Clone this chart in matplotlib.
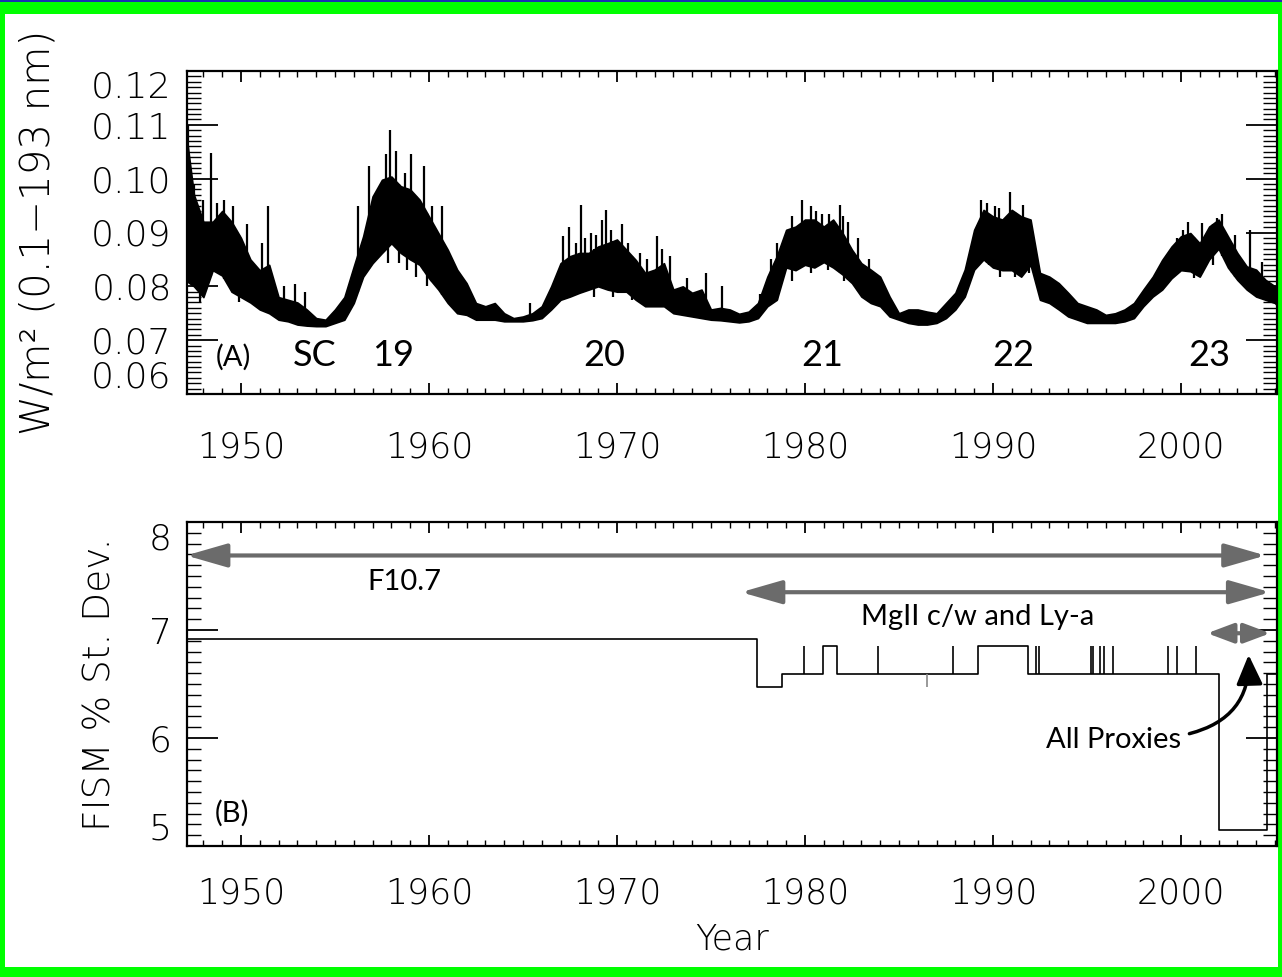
import matplotlib
matplotlib.use("Agg")
import matplotlib.pyplot as plt
import numpy as np
from matplotlib import font_manager as fm
from matplotlib.patches import Rectangle
from matplotlib.ticker import MultipleLocator

# ---- panel A: FISM 0.1-193 nm irradiance, band every half year
irr_years = [1947.1, 1947.5, 1948.0, 1948.5, 1949.0, 1949.5, 1950.0, 1950.5, 1951.0, 1951.5,
             1952.0, 1952.5, 1953.0, 1953.5, 1954.0, 1954.5, 1955.0, 1955.5, 1956.0, 1956.5,
             1957.0, 1957.5, 1958.0, 1958.5, 1959.0, 1959.5, 1960.0, 1960.5, 1961.0, 1961.5,
             1962.0, 1962.5, 1963.0, 1963.5, 1964.0, 1964.5, 1965.0, 1965.5, 1966.0, 1966.5,
             1967.0, 1967.5, 1968.0, 1968.5, 1969.0, 1969.5, 1970.0, 1970.5, 1971.0, 1971.5,
             1972.0, 1972.5, 1973.0, 1973.5, 1974.0, 1974.5, 1975.0, 1975.5, 1976.0, 1976.5,
             1977.0, 1977.5, 1978.0, 1978.5, 1979.0, 1979.5, 1980.0, 1980.5, 1981.0, 1981.5,
             1982.0, 1982.5, 1983.0, 1983.5, 1984.0, 1984.5, 1985.0, 1985.5, 1986.0, 1986.5,
             1987.0, 1987.5, 1988.0, 1988.5, 1989.0, 1989.5, 1990.0, 1990.5, 1991.0, 1991.5,
             1992.0, 1992.5, 1993.0, 1993.5, 1994.0, 1994.5, 1995.0, 1995.5, 1996.0, 1996.5,
             1997.0, 1997.5, 1998.0, 1998.5, 1999.0, 1999.5, 2000.0, 2000.5, 2001.0, 2001.5,
             2002.0, 2002.5, 2003.0, 2003.5, 2004.0, 2004.5, 2005.0, 2005.1]
irr_low = [0.0810, 0.0800, 0.0780, 0.0830, 0.0820, 0.0790, 0.0780, 0.0770, 0.0757, 0.0750,
           0.0738, 0.0735, 0.0729, 0.0727, 0.0726, 0.0726, 0.0732, 0.0738, 0.0769, 0.0818,
           0.0843, 0.0862, 0.0880, 0.0862, 0.0850, 0.0840, 0.0815, 0.0794, 0.0769, 0.0750,
           0.0747, 0.0738, 0.0738, 0.0738, 0.0735, 0.0735, 0.0735, 0.0737, 0.0741, 0.0757,
           0.0775, 0.0781, 0.0788, 0.0794, 0.0800, 0.0794, 0.0790, 0.0790, 0.0775, 0.0763,
           0.0763, 0.0763, 0.0750, 0.0747, 0.0744, 0.0741, 0.0738, 0.0737, 0.0735, 0.0733,
           0.0735, 0.0741, 0.0763, 0.0775, 0.0835, 0.0830, 0.0840, 0.0835, 0.0845, 0.0835,
           0.0822, 0.0806, 0.0781, 0.0769, 0.0763, 0.0744, 0.0738, 0.0732, 0.0729, 0.0729,
           0.0732, 0.0741, 0.0757, 0.0781, 0.0831, 0.0850, 0.0835, 0.0830, 0.0830, 0.0818,
           0.0840, 0.0775, 0.0769, 0.0757, 0.0744, 0.0738, 0.0732, 0.0732, 0.0732, 0.0732,
           0.0735, 0.0741, 0.0763, 0.0781, 0.0794, 0.0815, 0.0830, 0.0828, 0.0818, 0.0850,
           0.0870, 0.0835, 0.0812, 0.0794, 0.0781, 0.0775, 0.0769, 0.0765]
irr_high = [0.1080, 0.0970, 0.0920, 0.0920, 0.0940, 0.0920, 0.0890, 0.0850, 0.0830, 0.0840,
            0.0780, 0.0775, 0.0770, 0.0757, 0.0741, 0.0738, 0.0757, 0.0780, 0.0837, 0.0893,
            0.0967, 0.0998, 0.1004, 0.0986, 0.0980, 0.0961, 0.0930, 0.0899, 0.0868, 0.0831,
            0.0806, 0.0769, 0.0763, 0.0769, 0.0750, 0.0741, 0.0744, 0.0750, 0.0763, 0.0800,
            0.0843, 0.0856, 0.0862, 0.0862, 0.0874, 0.0880, 0.0887, 0.0868, 0.0849, 0.0825,
            0.0831, 0.0843, 0.0794, 0.0800, 0.0788, 0.0794, 0.0757, 0.0760, 0.0757, 0.0749,
            0.0753, 0.0769, 0.0818, 0.0856, 0.0905, 0.0911, 0.0924, 0.0924, 0.0911, 0.0924,
            0.0899, 0.0868, 0.0843, 0.0831, 0.0818, 0.0781, 0.0750, 0.0757, 0.0757, 0.0753,
            0.0750, 0.0769, 0.0788, 0.0831, 0.0905, 0.0942, 0.0930, 0.0924, 0.0942, 0.0930,
            0.0924, 0.0825, 0.0818, 0.0806, 0.0788, 0.0769, 0.0763, 0.0757, 0.0747, 0.0750,
            0.0757, 0.0769, 0.0794, 0.0818, 0.0849, 0.0874, 0.0893, 0.0899, 0.0880, 0.0911,
            0.0924, 0.0893, 0.0862, 0.0837, 0.0831, 0.0812, 0.0800, 0.0795]

# single-day flare spikes sticking out above the band
spike_years = [1947.2, 1947.5, 1948.0, 1948.4, 1948.7, 1949.1, 1949.6, 1950.3, 1951.1, 1951.45,
               1952.3, 1952.9, 1953.4, 1956.2, 1956.8, 1957.3, 1957.7, 1957.95, 1958.26, 1958.7,
               1959.05, 1959.72, 1960.16, 1960.7, 1965.37, 1967.11, 1967.46, 1967.8, 1968.07, 1968.3,
               1968.6, 1968.9, 1969.18, 1969.42, 1969.7, 1970.25, 1970.6, 1971.2, 1971.6, 1972.11,
               1972.4, 1972.8, 1973.7, 1974.73, 1975.57, 1977.6, 1978.2, 1978.5, 1979.3, 1979.82,
               1980.3, 1980.6, 1980.9, 1981.3, 1981.86, 1982.0, 1982.3, 1982.8, 1983.4, 1989.35,
               1989.7, 1990.1, 1990.3, 1990.9, 1991.6, 1999.8, 2000.1, 2000.39, 2001.1, 2001.9,
               2002.2, 2002.9, 2003.67, 2004.3]
spike_vals = [0.1100, 0.0990, 0.0960, 0.1048, 0.0955, 0.0960, 0.0950, 0.0915, 0.0880, 0.0949,
              0.0800, 0.0805, 0.0790, 0.0949, 0.1023, 0.0975, 0.1045, 0.1091, 0.1052, 0.1010,
              0.1045, 0.1023, 0.0949, 0.0949, 0.0769, 0.0893, 0.0911, 0.0880, 0.0952, 0.0890,
              0.0900, 0.0895, 0.0924, 0.0942, 0.0905, 0.0915, 0.0880, 0.0862, 0.0850, 0.0893,
              0.0870, 0.0856, 0.0815, 0.0825, 0.0800, 0.0785, 0.0850, 0.0880, 0.0930, 0.0961,
              0.0950, 0.0940, 0.0935, 0.0935, 0.0952, 0.0930, 0.0920, 0.0890, 0.0850, 0.0961,
              0.0955, 0.0950, 0.0945, 0.0975, 0.0952, 0.0890, 0.0905, 0.0920, 0.0917, 0.0927,
              0.0935, 0.0895, 0.0905, 0.0845]

# dips below the band
dip_years = [1947.8, 1949.9, 1957.8, 1958.4, 1958.85, 1959.3, 1959.9, 1968.8, 1969.8, 1970.8,
             1979.3, 1980.3, 1981.2, 1982.1, 1989.8, 1990.4, 1991.2, 1991.9, 2000.7, 2001.7,
             2002.7]
dip_vals = [0.0770, 0.0770, 0.0843, 0.0843, 0.0830, 0.0818, 0.0800, 0.0780, 0.0780, 0.0775,
            0.0810, 0.0825, 0.0830, 0.0810, 0.0840, 0.0818, 0.0818, 0.0825, 0.0815, 0.0840,
            0.0825]

cycle_labels = ["SC", "19", "20", "21", "22", "23"]
cycle_years = [1953.9, 1958.1, 1969.3, 1980.9, 1991.06, 2001.5]

# ---- panel B: FISM % standard deviation (step function)
fism_years = [1947.1, 1977.45, 1978.8, 1980.96, 1981.7, 1989.2, 1991.86, 2002.0, 2004.6, 2005.1]
fism_sd = [6.92, 6.47, 6.59, 6.85, 6.59, 6.85, 6.59, 5.15, 6.59, 6.59]
fism_spike_years = [1979.95, 1983.9, 1987.9, 1992.3, 1992.45, 1995.2, 1995.3, 1995.7, 1995.9,
                    1996.4, 1999.3, 1999.8, 2000.8]

xmin, xmax = 1947.13, 2005.11


def light_font():
    # thin axis font like the IDL original, if a light face is installed
    for fam in ["DejaVu Sans", "Open Sans", "Roboto", "Lato", "Noto Sans", "Inter"]:
        for f in fm.fontManager.ttflist:
            w = f.weight if isinstance(f.weight, int) else fm.weight_dict.get(f.weight, 400)
            if f.name == fam and f.style == "normal" and w <= 300:
                return fam, w
    return "DejaVu Sans", "normal"


axis_fam, axis_w = light_font()
plt.rcParams["font.family"] = [axis_fam, "DejaVu Sans"]
plt.rcParams["font.weight"] = axis_w
plt.rcParams["axes.labelweight"] = axis_w

fig = plt.figure(figsize=(12.82, 9.77), dpi=100, facecolor="#00ff00")
fig.add_artist(Rectangle((5 / 1282, 10 / 977), 1273 / 1282, 953 / 977,
                         transform=fig.transFigure, facecolor="white", edgecolor="none", zorder=0))
fig.add_artist(Rectangle((0, 1 - 2 / 977), 1, 2 / 977, transform=fig.transFigure,
                         facecolor="#1a2fb0", edgecolor="none", zorder=0))

axA = fig.add_axes([187 / 1282, 1 - 394 / 977, 1090 / 1282, 323 / 977])
axB = fig.add_axes([187 / 1282, 1 - 846 / 977, 1090 / 1282, 324 / 977])

ann = dict(family=["Lato", "DejaVu Sans"], weight="normal", ha="center", va="center")

# panel A
axA.fill_between(irr_years, irr_low, irr_high, color="black", lw=1.2, edgecolor="black")
axA.vlines(spike_years, np.interp(spike_years, irr_years, irr_low), spike_vals,
           color="black", lw=1.6)
axA.vlines(dip_years, dip_vals, np.interp(dip_years, irr_years, irr_high),
           color="black", lw=1.6)
axA.set_xlim(xmin, xmax)
axA.set_ylim(0.06, 0.12)
axA.set_yticks([0.06, 0.07, 0.08, 0.09, 0.10, 0.11, 0.12])
axA.set_yticklabels(["0.06", "0.07", "0.08", "0.09", "0.10", "0.11", "0.12"])
axA.yaxis.set_minor_locator(MultipleLocator(0.001))
axA.text(1949.6, 0.0669, "(A)", fontsize=21, **ann)
for lab, yr in zip(cycle_labels, cycle_years):
    axA.text(yr, 0.0672, lab, fontsize=26, **ann)
axA.set_ylabel("W/m² (0.1−193 nm)", fontsize=29)

# panel B
axB.step(fism_years, fism_sd, where="post", color="black", lw=1.2)
axB.vlines(fism_spike_years, 6.59, 6.85, color="black", lw=1.2)
axB.vlines([1986.5], 6.47, 6.59, color="#888888", lw=1.2)
axB.set_xlim(xmin, xmax)
axB.set_ylim(5, 8)
axB.set_yticks([5, 6, 7, 8])
axB.yaxis.set_minor_locator(MultipleLocator(0.1))
axB.set_ylabel("FISM % St. Dev.", fontsize=27)
axB.set_xlabel("Year", fontsize=25)

arrow_gray = "#6b6b6b"
axB.annotate("", xy=(2004.5, 7.69), xytext=(1947.08, 7.69),
             arrowprops=dict(arrowstyle="<|-|>,head_length=1.25,head_width=0.36",
                             mutation_scale=20, color=arrow_gray, lw=3, shrinkA=0, shrinkB=0))
axB.annotate("", xy=(2004.75, 7.35), xytext=(1976.6, 7.35),
             arrowprops=dict(arrowstyle="<|-|>,head_length=1.25,head_width=0.36",
                             mutation_scale=20, color=arrow_gray, lw=3, shrinkA=0, shrinkB=0))
axB.annotate("", xy=(2004.75, 6.97), xytext=(2001.4, 6.97),
             arrowprops=dict(arrowstyle="<|-|>,head_length=0.8,head_width=0.3",
                             mutation_scale=20, color=arrow_gray, lw=3, shrinkA=0, shrinkB=0))
axB.text(1958.7, 7.44, "F10.7", fontsize=21, **ann)
axB.text(1989.2, 7.12, "MgII c/w and Ly-a", fontsize=21, **ann)
axB.text(1996.4, 5.98, "All Proxies", fontsize=21, **ann)
axB.annotate("", xy=(2003.6, 6.77), xytext=(2000.45, 6.04),
             arrowprops=dict(arrowstyle="-|>,head_length=0.9,head_width=0.4", mutation_scale=20,
                             connectionstyle="arc3,rad=0.4", color="black", lw=2.5,
                             shrinkA=0, shrinkB=0))
axB.text(1949.5, 5.30, "(B)", fontsize=21, **ann)

for ax in (axA, axB):
    ax.set_xticks([1950, 1960, 1970, 1980, 1990, 2000])
    ax.xaxis.set_minor_locator(MultipleLocator(1))
    ax.tick_params(which="both", direction="in", top=True, right=True, color="black")
    ax.tick_params(axis="x", which="major", length=8, width=1.3, labelsize=25, pad=26)
    ax.tick_params(axis="x", which="minor", length=4, width=1)
    ax.tick_params(axis="y", which="major", length=22, width=1.3, labelsize=26, pad=11)
    ax.tick_params(axis="y", which="minor", length=10, width=1)
    for sp in ax.spines.values():
        sp.set_linewidth(1.6)
    yt = ax.yaxis.get_major_ticks()
    yt[0].label1.set_va("bottom")
    yt[-1].label1.set_va("top")
    ax.yaxis.label.set_va("center")

axA.yaxis.set_label_coords(-0.137, 0.5)
axB.yaxis.set_label_coords(-0.080, 0.5)
axB.xaxis.label.set_va("center")
axB.xaxis.set_label_coords(0.5, -0.29)
axB.tick_params(axis="x", which="major", pad=22)

fig.savefig("out.png", dpi=100, facecolor=fig.get_facecolor())
